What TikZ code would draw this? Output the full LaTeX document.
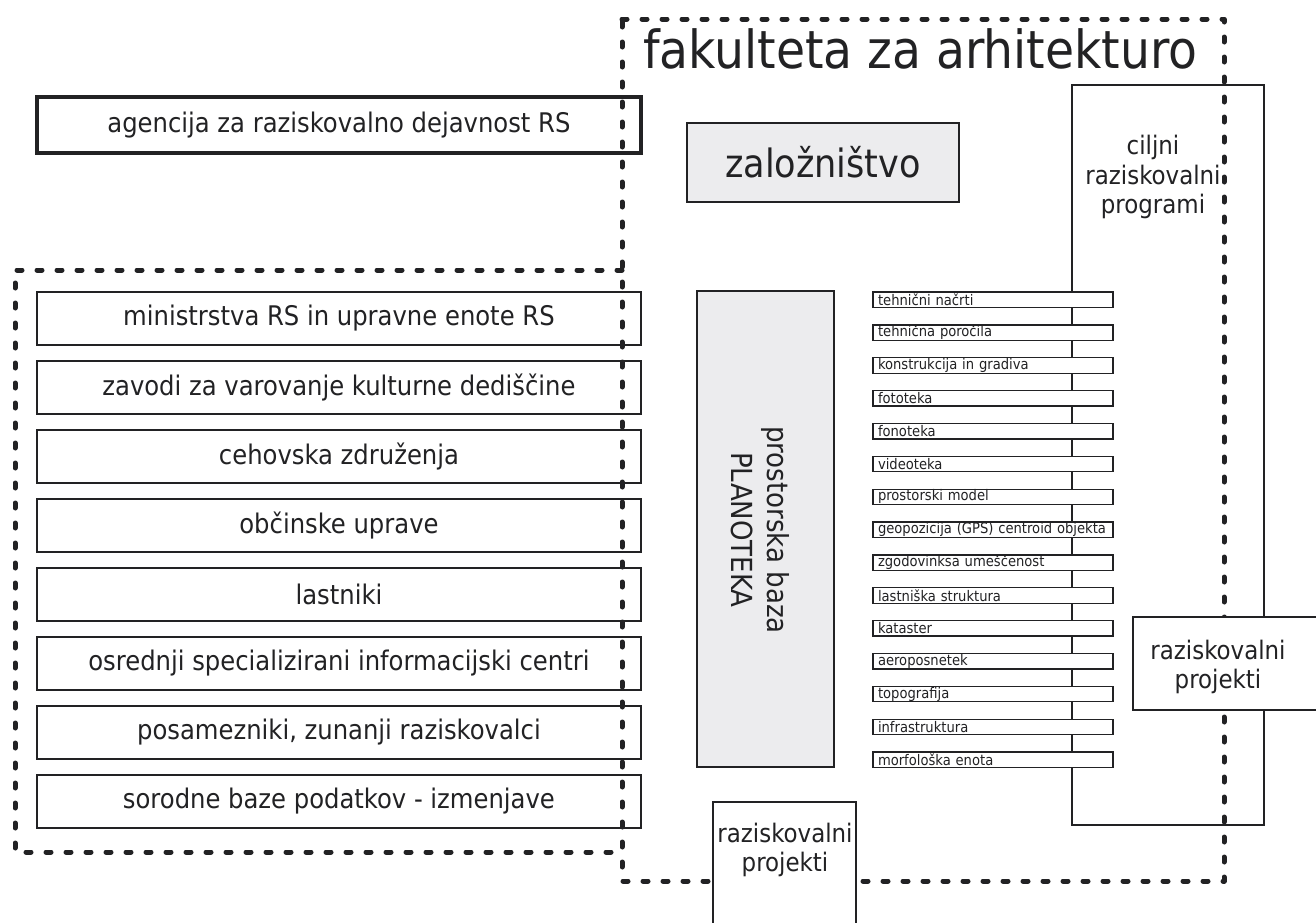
\documentclass[tikz,border=0pt]{standalone}
\usepackage{fontspec}
\setmainfont{DejaVu Sans Condensed}
\definecolor{ink}{RGB}{34,34,36}
\definecolor{boxgray}{RGB}{236,236,238}
\begin{document}
\begin{tikzpicture}[x=1pt,y=-1pt,
  lbox/.style={draw=ink, line width=2.5pt, fill=white, minimum width=604pt, minimum height=53pt, inner sep=0pt, text=ink, font=\fontsize{27}{30}\selectfont},
  abox/.style={lbox, line width=4pt, minimum height=56pt},
  gbox/.style={draw=ink, line width=2.2pt, fill=boxgray, inner sep=0pt, text=ink},
  wbox/.style={draw=ink, line width=2pt, fill=white, inner sep=0pt},
  sbox/.style={draw=ink, line width=1.3pt, fill=white, minimum width=240pt, minimum height=15.5pt, inner ysep=0pt, inner xsep=5pt, text width=230pt, align=left, text=ink, font=\fontsize{14.6}{15}\selectfont},
  lbl/.style={text=ink, inner sep=0pt, align=center, font=\fontsize{25.5}{29.5}\selectfont},
  dashline/.style={draw=ink, line width=5pt, dash pattern=on 5pt off 15pt, line cap=round, line join=round}
]
\useasboundingbox (0,0) rectangle (1316,922);
\fill[white] (0,0) rectangle (1316,922);

% ciljni raziskovalni programi
\node[wbox, minimum width=192pt, minimum height=740pt] (ciljni) at (1168,455) {};
\node[lbl] (ciljnitxt) at (1153,177) {ciljni\\raziskovalni\\programi};

% agencija
\node[abox] (agencija) at (339,125) {agencija za raziskovalno dejavnost RS};

% left boxes
\node[lbox] (b1) at (339,318.5) {ministrstva RS in upravne enote RS};
\node[lbox] (b2) at (339,387.5) {zavodi za varovanje kulturne dediščine};
\node[lbox] (b3) at (339,456.5) {cehovska združenja};
\node[lbox] (b4) at (339,525.5) {občinske uprave};
\node[lbox] (b5) at (339,594.5) {lastniki};
\node[lbox] (b6) at (339,663.5) {osrednji specializirani informacijski centri};
\node[lbox] (b7) at (339,732.5) {posamezniki, zunanji raziskovalci};
\node[lbox] (b8) at (339,801.5) {sorodne baze podatkov - izmenjave};

% zaloznistvo
\node[gbox, minimum width=272pt, minimum height=79pt, font=\fontsize{39}{42}\selectfont] (zal) at (823,162.5) {založništvo};

% planoteka
\node[gbox, minimum width=137pt, minimum height=476pt] (plan) at (765.5,529) {};
\node[text=ink, inner sep=0pt, align=center, rotate=-90, font=\fontsize{29}{36}\selectfont] (plantxt) at (760,530) {prostorska baza\\PLANOTEKA};

% list
\foreach \t [count=\i from 0] in {tehnični načrti, tehnična poročila, konstrukcija in gradiva, fototeka, fonoteka, videoteka, prostorski model, geopozicija (GPS) centroid objekta, zgodovinksa umeščenost, lastniška struktura, kataster, aeroposnetek, topografija, infrastruktura, morfološka enota}{
  \node[sbox] (s\i) at (993,{299.75+32.86*\i}) {\mbox{\t}};
}

% title
\node[text=ink, inner sep=0pt, anchor=base west, font=\fontsize{52.5}{56}\selectfont] (title) at (643,68) {fakulteta za arhitekturo};

% dashed borders
\draw[dashline] (622,19) -- (1224,19) -- (1224,881) -- (622,881) -- cycle;
\draw[dashline] (622,270) -- (15,270) -- (15,852) -- (622,852);

% raziskovalni projekti
\node[wbox, minimum width=187pt, minimum height=93pt] (rp1) at (1226.5,663.5) {};
\node[lbl] (rp1txt) at (1218,667) {raziskovalni\\projekti};
\node[wbox, minimum width=143pt, minimum height=128pt] (rp2) at (784.5,866) {};
\node[lbl] (rp2txt) at (785,850) {raziskovalni\\projekti};
\end{tikzpicture}
\end{document}
